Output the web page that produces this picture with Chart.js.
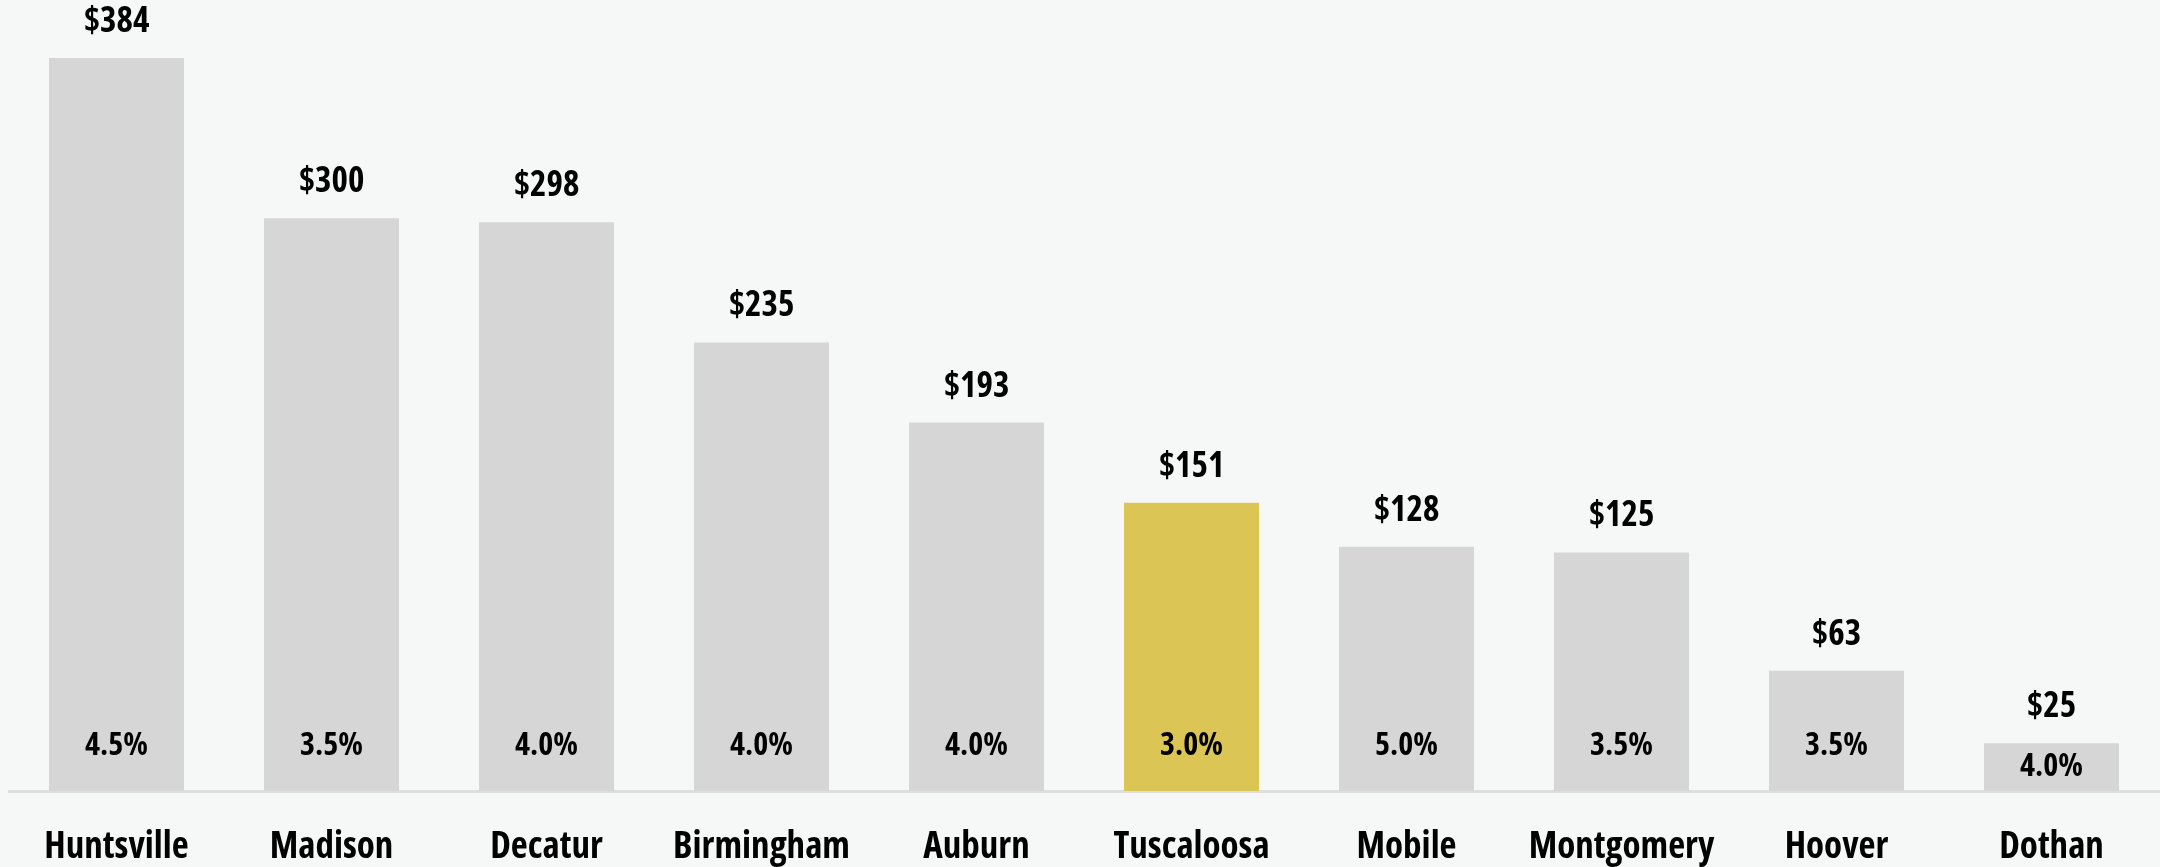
<!DOCTYPE html>
<html>
<head>
<meta charset="utf-8">
<script src="https://cdn.jsdelivr.net/npm/chart.js@4.4.1/dist/chart.umd.min.js"></script>
<style>
  html, body { margin: 0; padding: 0; background: #f6f8f7; }
  #wrap { width: 2160px; height: 867px; }
</style>
</head>
<body>
<div id="wrap"><canvas id="cityChart" width="2160" height="867"></canvas></div>
<script>
const cities = ['Huntsville', 'Madison', 'Decatur', 'Birmingham', 'Auburn', 'Tuscaloosa', 'Mobile', 'Montgomery', 'Hoover', 'Dothan'];
const amounts = [384, 300, 298, 235, 193, 151, 128, 125, 63, 25];
const rates = [4.5, 3.5, 4.0, 4.0, 4.0, 3.0, 5.0, 3.5, 3.5, 4.0];
const highlightCity = 'Tuscaloosa';

// Open Sans squeezed to its condensed width
const FONT = "'Open Sans', sans-serif";
const WEIGHT = 'bold condensed';
const GREY = '#d6d6d6';
const GOLD = '#dbc555';

// paints the page tint behind everything
const backdrop = {
    id: 'backdrop',
    beforeDraw(chart) {
        const c = chart.ctx;
        c.save();
        c.fillStyle = '#f6f8f7';
        c.fillRect(0, 0, chart.width, chart.height);
        c.restore();
    }
};

// dollar amount above each bar, rate inside near the bottom
const barLabels = {
    id: 'barLabels',
    afterDatasetsDraw(chart) {
        const c = chart.ctx;
        const meta = chart.getDatasetMeta(0);
        c.save();
        c.fillStyle = '#000';
        c.textAlign = 'center';
        c.textBaseline = 'middle';
        meta.data.forEach((bar, i) => {
            c.font = `${WEIGHT} 35px ${FONT}`;
            c.fillText('$' + amounts[i], bar.x, bar.y - 36);
            c.font = `${WEIGHT} 32px ${FONT}`;
            const mid = bar.y + (bar.base - bar.y) / 2;
            c.fillText(rates[i].toFixed(1) + '%', bar.x, Math.max(mid, bar.base - 45));
        });
        c.restore();
    }
};

new Chart(document.getElementById('cityChart'), {
    type: 'bar',
    data: {
        labels: cities,
        datasets: [{
            data: amounts,
            backgroundColor: cities.map(c => c === highlightCity ? GOLD : GREY),
            borderWidth: 0,
            barPercentage: 0.628,
            categoryPercentage: 1
        }]
    },
    options: {
        responsive: false,
        animation: false,
        devicePixelRatio: 1,
        layout: { autoPadding: false, padding: { top: 58, left: 9, right: 1, bottom: 0 } },
        plugins: {
            legend: { display: false },
            tooltip: { enabled: false }
        },
        scales: {
            x: {
                grid: { display: false, drawTicks: false },
                border: { display: true, color: '#dedede', width: 3 },
                ticks: {
                    color: '#000',
                    font: { family: FONT, size: 37, weight: WEIGHT },
                    padding: 34,
                    autoSkip: false,
                    maxRotation: 0
                },
                afterFit: scale => { scale.height = 76; }
            },
            y: {
                display: false,
                min: 0,
                max: 384
            }
        }
    },
    plugins: [backdrop, barLabels]
});
</script>
</body>
</html>
